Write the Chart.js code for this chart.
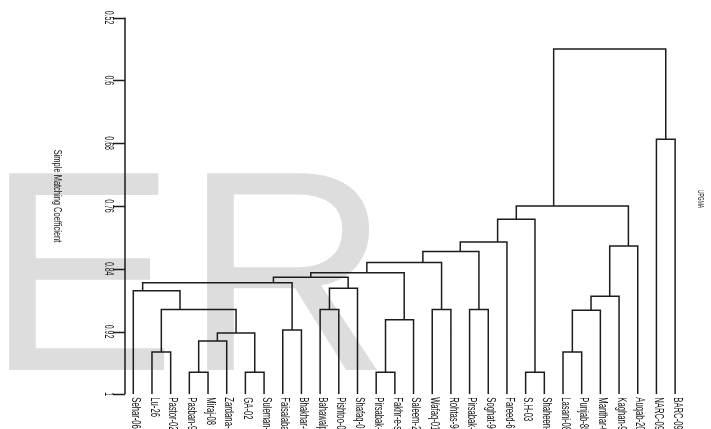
<!DOCTYPE html>
<html>
<head>
<meta charset="utf-8">
<script src="https://cdn.jsdelivr.net/npm/chart.js@4/dist/chart.umd.min.js"></script>
<style>
  html, body { margin: 0; padding: 0; background: #ffffff; overflow: hidden; }
  canvas { display: block; }
</style>
</head>
<body>
<canvas id="tree" width="711" height="429"></canvas>
<script>
// Cultivars in the order they appear along the bottom of the tree
const leafNames = [
  'Sehar-06', 'Lu-26', 'Pastor-02', 'Pasban-90', 'Miraj-08', 'Zardana-89',
  'GA-02', 'Suleman-96', 'Faisalabad-08', 'Bhakhar-02', 'Bahawalpur-2000',
  'Pishtoo-05', 'Shafaq-06', 'Pirsabak-05', 'Fakhr-e-sarhad', 'Saleem-2000',
  'Wafaq-01', 'Rohtas-90', 'Pirsabak-08', 'Soghat-90', 'Fareed-6', 'S.H-03',
  'Shaheen-94', 'Lasani-08', 'Punjab-85', 'Manthar-03', 'Kaghan-94',
  'Auqab-2000', 'NARC-09', 'BARC-09'
];

// UPGMA joins: cluster ids below 30 are leaves, id 30 + k is the k-th join
const mergeLeft   = [1, 3, 31, 6, 32, 30, 0, 8, 36, 10, 39, 38, 13, 42, 41, 16, 44, 18, 46, 48, 21, 49, 23, 52, 53, 54, 51, 28, 56];
const mergeRight  = [2, 4, 5, 7, 33, 34, 35, 9, 37, 11, 12, 40, 14, 15, 43, 17, 45, 19, 47, 20, 22, 50, 24, 25, 26, 27, 55, 29, 57];
// Simple matching coefficient at which each join happens
const mergeHeight = [0.946, 0.972, 0.932, 0.972, 0.922, 0.892, 0.868, 0.918, 0.858, 0.892, 0.865, 0.851,
                     0.972, 0.905, 0.845, 0.892, 0.832, 0.892, 0.818, 0.806, 0.972, 0.777, 0.946, 0.893,
                     0.875, 0.811, 0.760, 0.675, 0.560];

// Coefficient axis
const tickValues = [1, 0.92, 0.84, 0.76, 0.68, 0.6, 0.52];
const tickLabels = ['1', '0.92', '0.84', '0.76', '0.68', '0.6', '0.52'];
const axisTitle = 'Simple Matching Coefficient';
const methodLabel = 'UPGMA';

// Build the branch polyline: each join is a bracket from its left child up,
// across, and down to its right child. The bracket's stem sits on the boundary
// between the two child groups.
const n = leafNames.length;
const height = [], conn = [], lastLeaf = [];
for (let i = 0; i < n; i++) { height[i] = 1; conn[i] = i; lastLeaf[i] = i; }
const branchPoints = [];
mergeHeight.forEach((h, k) => {
  const id = n + k, l = mergeLeft[k], r = mergeRight[k];
  conn[id] = lastLeaf[l] + 0.5;
  lastLeaf[id] = Math.max(lastLeaf[l], lastLeaf[r]);
  height[id] = h;
  branchPoints.push(
    { x: conn[l], y: height[l] },
    { x: conn[l], y: h },
    { x: conn[r], y: h },
    { x: conn[r], y: height[r] },
    { x: conn[r], y: null }
  );
});

const FONT = '"Liberation Sans", Arial, sans-serif';
const INK = '#1c1c1c';

// Text set vertically, read from top to bottom, squeezed along its run
function vText(ctx, text, x, y, align, size, squeeze) {
  ctx.save();
  ctx.translate(x, y);
  ctx.rotate(Math.PI / 2);
  ctx.scale(squeeze, 1);
  ctx.font = size + 'px ' + FONT;
  ctx.textAlign = align;
  ctx.textBaseline = 'middle';
  ctx.fillStyle = '#111111';
  ctx.fillText(text, 0, 0);
  ctx.restore();
}

const decorations = {
  id: 'decorations',
  beforeDatasetsDraw(chart) {
    const ctx = chart.ctx;
    // faint lettering behind the tree
    ctx.save();
    ctx.fillStyle = '#dddddd';
    ctx.font = '286px ' + FONT;
    ctx.textBaseline = 'alphabetic';
    ctx.textAlign = 'left';
    [['E', 8], ['R', 206]].forEach(([ch, left]) => {
      const m = ctx.measureText(ch);
      ctx.fillText(ch, left + m.actualBoundingBoxLeft, 370);
    });
    ctx.restore();
  },
  afterDraw(chart) {
    const ctx = chart.ctx;
    const xs = chart.scales.x, ys = chart.scales.y;
    const area = chart.chartArea;
    ctx.save();
    ctx.strokeStyle = INK;
    ctx.lineWidth = 1.5;
    ctx.beginPath();
    ctx.moveTo(area.left, ys.getPixelForValue(0.52));
    ctx.lineTo(area.left, ys.getPixelForValue(1));
    tickValues.forEach(v => {
      const py = Math.round(ys.getPixelForValue(v)) + 0.5;
      ctx.moveTo(area.left - 12, py);
      ctx.lineTo(area.left, py);
    });
    ctx.stroke();
    ctx.restore();

    tickValues.forEach((v, i) => {
      vText(ctx, tickLabels[i], area.left - 17, ys.getPixelForValue(v), 'center', 12, 0.58);
    });
    leafNames.forEach((name, i) => {
      vText(ctx, name, xs.getPixelForValue(i) + 2, ys.getPixelForValue(1) + 3, 'left', 12, 0.64);
    });
    vText(ctx, axisTitle, 57, 196, 'center', 11, 0.68);
    vText(ctx, methodLabel, 700, 199, 'center', 9, 0.55);
  }
};

new Chart(document.getElementById('tree'), {
  type: 'line',
  data: {
    datasets: [{
      data: branchPoints,
      borderColor: INK,
      borderWidth: 1.5,
      pointRadius: 0,
      tension: 0,
      spanGaps: false,
      fill: false
    }]
  },
  options: {
    responsive: false,
    devicePixelRatio: 1,
    animation: false,
    events: [],
    layout: { padding: { left: 125, top: 17.5, right: 6, bottom: 34.7 } },
    plugins: { legend: { display: false }, tooltip: { enabled: false } },
    scales: {
      x: { type: 'linear', min: -0.444, max: 30.6, display: false },
      y: { type: 'linear', min: 0.52, max: 1, reverse: true, display: false }
    }
  },
  plugins: [decorations]
});
</script>
</body>
</html>
